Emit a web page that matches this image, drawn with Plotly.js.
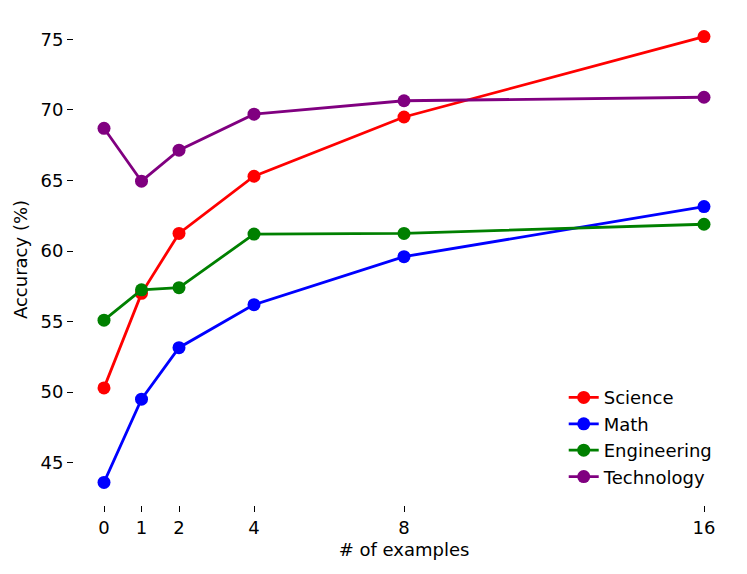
<!DOCTYPE html>
<html><head><meta charset="utf-8">
<script src="https://cdn.plot.ly/plotly-3.0.1.min.js"></script>
<style>html,body{margin:0;padding:0;background:#fff}#chart{width:747px;height:574px}</style>
</head><body><div id="chart"></div>
<script>
var examples = [0, 1, 2, 4, 8, 16];
var science = [50.3, 57.0, 61.25, 65.3, 69.5, 75.2];
var math = [43.6, 49.5, 53.15, 56.2, 59.6, 63.15];
var engineering = [55.1, 57.25, 57.4, 61.2, 61.25, 61.9];
var technology = [68.7, 64.95, 67.15, 69.7, 70.65, 70.9];
var seriesNames = ["Science", "Math", "Engineering", "Technology"];
var seriesColors = ["red", "blue", "green", "purple"];
var yTicks = [45, 50, 55, 60, 65, 70, 75];

var values = [science, math, engineering, technology];
var traces = values.map(function(v, i){
  return {x: examples, y: v, name: seriesNames[i], type: 'scatter', mode: 'lines+markers',
    line: {color: seriesColors[i], width: 2.8}, marker: {color: seriesColors[i], size: 13}};
});
var font = {family: 'DejaVu Sans', size: 18, color: '#000'};
var layout = {
  width: 747, height: 574,
  margin: {l: 74, r: 13, t: 14, b: 69},
  paper_bgcolor: '#fff', plot_bgcolor: '#fff',
  font: font,
  showlegend: true,
  legend: {x: 0.742, xanchor: 'left', y: 0.02, yanchor: 'bottom', font: font, bgcolor: 'rgba(0,0,0,0)'},
  xaxis: {range: [-0.8, 16.8], tickvals: examples, ticktext: examples.map(String), showgrid: false, zeroline: false, showline: false,
    ticks: 'outside', ticklen: 6, tickwidth: 1, tickcolor: '#000', tickfont: font,
    title: {text: '# of examples', font: font, standoff: 6}},
  yaxis: {range: [42.0, 76.8], tickvals: yTicks, showgrid: false, zeroline: false, showline: false,
    ticks: 'outside', ticklen: 6, tickwidth: 1, tickcolor: '#000', tickfont: font,
    title: {text: 'Accuracy (%)', font: font, standoff: 8}}
};
Plotly.newPlot('chart', traces, layout, {displayModeBar: false});
</script></body></html>
